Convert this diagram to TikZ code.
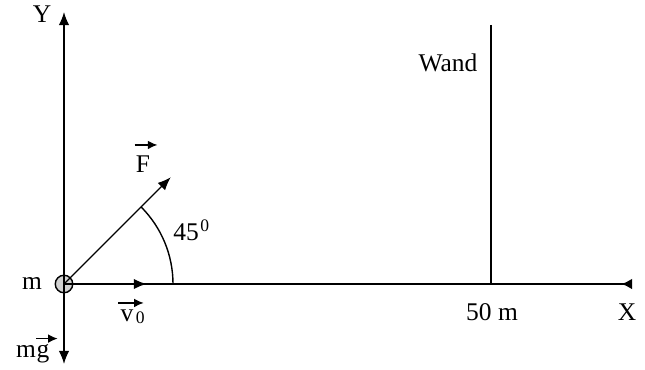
\documentclass[tikz,border=0pt]{standalone}
\usepackage{fontspec}
\setmainfont{Liberation Serif}
\usetikzlibrary{arrows.meta,positioning,calc}

\begin{document}
\begin{tikzpicture}[
    x=0.02cm, y=0.02cm,
    lbl/.style={inner sep=0pt, font=\fontsize{14.5}{17}\selectfont},
    sub/.style={inner sep=0pt, font=\fontsize{10}{12}\selectfont},
    axis/.style={line width=0.8pt},
    vec/.style={line width=0.8pt, -{Latex[length=7.5pt,width=6pt]}},
    tag/.style={line width=0.8pt, -{Latex[length=5.5pt,width=5pt]}}
]
\useasboundingbox (0,0) rectangle (645,369);
% 1 unit = 1 px of the sketch

% mass at the origin
\coordinate (O) at (64,85);
\node[circle, draw, line width=0.8pt, fill=gray!35, minimum size=0.35cm, inner sep=0pt] (mass) at (O) {};

% axes
\coordinate (ytop) at (64,357);
\coordinate (xend) at (632,85);
\draw[vec] (O) -- (ytop);
\draw[axis, -{Latex[length=6pt,width=6pt,reversed]}] (O) -- (xend);

% forces and velocity
\coordinate (gtip) at (64,5);
\coordinate (vtip) at (147,85);
\coordinate (ftip) at ($(O)+(45:151)$);
\draw[vec] (O) -- (gtip);
\draw[vec, line width=1.4pt] (O) -- (vtip);
\draw[vec] (O) -- (ftip);

% angle
\draw[axis] (173,85) arc[start angle=0, end angle=45, radius=109];

% wall
\coordinate (wtop) at (491,344);
\coordinate (wbot) at (491,85);
\draw[axis] (wtop) -- (wbot);

% labels
\node[lbl] (ylab) at (42,355) {Y};
\node[lbl] (xlab) at (627,57) {X};
\node[lbl] (mlab) at (32,86) {m};
\node[lbl] (wlab) at (448,306) {Wand};
\node[lbl] (dlab) at (492,57) {50 m};

% 45 degrees
\node[lbl, anchor=base] (alab) at (186,129) {45};
\node[sub, anchor=north west] (adeg) at ([xshift=0.5pt,yshift=2pt]alab.north east) {0};

% F
\node[lbl, anchor=base] (flab) at (143,197) {F};
\draw[tag] ($(flab.north west)+(-1,10)$) -- ($(flab.north east)+(7,10)$);

% v0
\node[lbl, anchor=base] (vlab) at (127,48) {v};
\node[sub, anchor=base west] (vsub) at ([xshift=1pt,yshift=-1.5pt]vlab.base east) {0};
\draw[tag] ($(vlab.north west)+(-2,6)$) -- ($(vlab.north east)+(10,6)$);

% mg
\node[lbl, anchor=base] (mglab) at (26,12) {m};
\node[lbl, anchor=base west] (glab) at (mglab.base east) {g};
\draw[tag] ($(glab.north west)+(0,5)$) -- ($(glab.north east)+(8,5)$);
\end{tikzpicture}
\end{document}
